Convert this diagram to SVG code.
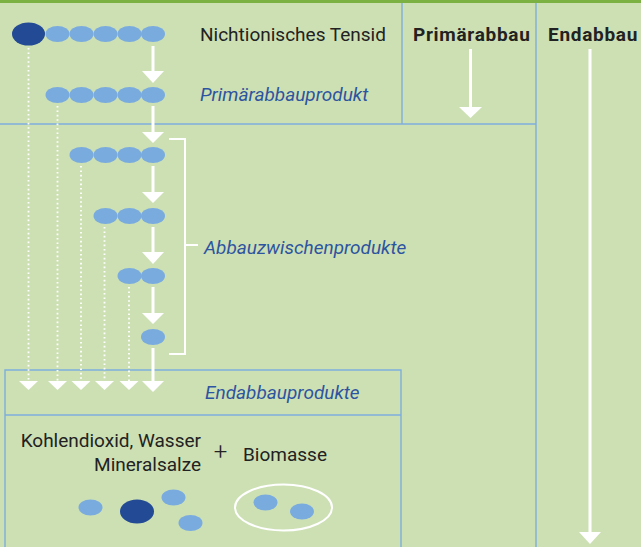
<svg xmlns="http://www.w3.org/2000/svg" width="641" height="547" viewBox="0 0 641 547">
<defs>
<style>
.bg{fill:#cde0b4}
.grid{stroke:#7eaedc;stroke-width:1.4;fill:none}
.lb{fill:#7aabdf}
.db{fill:#234a94}
.t{font-family:Roboto,"Liberation Sans",sans-serif;font-size:19px;fill:#222}
.b{font-weight:bold;letter-spacing:0.7px}
.i{font-style:italic;fill:#2d54a0}
.ar{stroke:#fff;stroke-width:3;fill:none}
.hd{fill:#fff}
.dot{stroke:#fff;stroke-width:1.8;stroke-dasharray:1.6 2.8;fill:none}
.br{stroke:#fff;stroke-width:2;fill:none}
</style>
</defs>
<rect class="bg" x="0" y="0" width="641" height="547"/>
<rect x="0" y="0" width="641" height="3" fill="#7bb043"/>
<g id="grid">
<line class="grid" x1="402" y1="3" x2="402" y2="124"/>
<line class="grid" x1="536" y1="3" x2="536" y2="547"/>
<line class="grid" x1="0" y1="124" x2="536" y2="124"/>
<path class="grid" d="M5,547 V370 H401 V547"/>
<line class="grid" x1="5" y1="415" x2="401" y2="415"/>
</g>
<g id="headers">
<text class="t" x="200" y="40.5">Nichtionisches Tensid</text>
<text class="t b" x="413" y="40.5">Primärabbau</text>
<text class="t b" x="548" y="40.5">Endabbau</text>
</g>
<g id="tensid">
<ellipse class="db" cx="28.5" cy="34" rx="16.5" ry="11.5"/>
<ellipse class="lb" cx="57.5" cy="34" rx="12" ry="8"/>
<ellipse class="lb" cx="81.5" cy="34" rx="12" ry="8"/>
<ellipse class="lb" cx="105.5" cy="34" rx="12" ry="8"/>
<ellipse class="lb" cx="129.5" cy="34" rx="12" ry="8"/>
<ellipse class="lb" cx="153" cy="34" rx="12" ry="8"/>
</g>
<g id="primaerprodukt">
<ellipse class="lb" cx="57.5" cy="95" rx="12" ry="8"/>
<ellipse class="lb" cx="81.5" cy="95" rx="12" ry="8"/>
<ellipse class="lb" cx="105.5" cy="95" rx="12" ry="8"/>
<ellipse class="lb" cx="129.5" cy="95" rx="12" ry="8"/>
<ellipse class="lb" cx="153" cy="95" rx="12" ry="8"/>
<text class="t i" x="200" y="100.5">Primärabbauprodukt</text>
</g>
<g id="zwischen1">
<ellipse class="lb" cx="81.5" cy="155" rx="12" ry="8"/>
<ellipse class="lb" cx="105.5" cy="155" rx="12" ry="8"/>
<ellipse class="lb" cx="129.5" cy="155" rx="12" ry="8"/>
<ellipse class="lb" cx="153" cy="155" rx="12" ry="8"/>
</g>
<g id="zwischen2">
<ellipse class="lb" cx="105.5" cy="216" rx="12" ry="8"/>
<ellipse class="lb" cx="129.5" cy="216" rx="12" ry="8"/>
<ellipse class="lb" cx="153" cy="216" rx="12" ry="8"/>
</g>
<g id="zwischen3">
<ellipse class="lb" cx="129.5" cy="276" rx="12" ry="8"/>
<ellipse class="lb" cx="153" cy="276" rx="12" ry="8"/>
</g>
<g id="zwischen4">
<ellipse class="lb" cx="153" cy="337" rx="12" ry="8"/>
</g>
<g id="zwischenlabel">
<path class="br" d="M169,139 H185 V354 H169 M185,245 H198"/>
<text class="t i" x="204" y="254">Abbauzwischenprodukte</text>
</g>
<g id="endprodukte">
<text class="t i" x="205" y="399">Endabbauprodukte</text>
<text class="t" x="201" y="447" text-anchor="end">Kohlendioxid, Wasser</text>
<text class="t" x="201" y="470.5" text-anchor="end">Mineralsalze</text>
<text class="t" x="220.5" y="460" text-anchor="middle" style="font-size:24px;font-weight:300">+</text>
<text class="t" x="243" y="460.5">Biomasse</text>
<ellipse class="lb" cx="90.5" cy="507.5" rx="12" ry="8"/>
<ellipse class="db" cx="137" cy="511.5" rx="17" ry="12"/>
<ellipse class="lb" cx="173.5" cy="497.5" rx="12" ry="8"/>
<ellipse class="lb" cx="190.5" cy="523" rx="12" ry="8"/>
<ellipse cx="283.5" cy="507.5" rx="48.5" ry="23" fill="none" stroke="#fff" stroke-width="2"/>
<ellipse class="lb" cx="265.5" cy="502.5" rx="12" ry="8"/>
<ellipse class="lb" cx="302" cy="511.5" rx="12" ry="8"/>
</g>
<g id="connectors">
<line class="ar" x1="153" y1="46" x2="153" y2="72"/>
<polygon class="hd" points="142,71 164,71 153,83"/>
<line class="ar" x1="153" y1="106" x2="153" y2="133"/>
<polygon class="hd" points="142,132 164,132 153,143"/>
<line class="ar" x1="153" y1="166" x2="153" y2="193"/>
<polygon class="hd" points="142,192 164,192 153,203"/>
<line class="ar" x1="153" y1="227" x2="153" y2="253"/>
<polygon class="hd" points="142,252 164,252 153,264"/>
<line class="ar" x1="153" y1="287" x2="153" y2="314"/>
<polygon class="hd" points="142,313 164,313 153,324"/>
<line class="ar" x1="153" y1="348" x2="153" y2="382"/>
<polygon class="hd" points="142,381 164,381 153,392"/>
<line class="dot" x1="28.5" y1="48" x2="28.5" y2="381"/>
<polygon class="hd" points="19,381 38,381 28.5,390"/>
<line class="dot" x1="57.5" y1="106" x2="57.5" y2="381"/>
<polygon class="hd" points="48,381 67,381 57.5,390"/>
<line class="dot" x1="81" y1="166" x2="81" y2="381"/>
<polygon class="hd" points="71.5,381 90.5,381 81,390"/>
<line class="dot" x1="104.5" y1="227" x2="104.5" y2="381"/>
<polygon class="hd" points="95,381 114,381 104.5,390"/>
<line class="dot" x1="129" y1="287" x2="129" y2="381"/>
<polygon class="hd" points="119.5,381 138.5,381 129,390"/>
<line class="ar" x1="470.5" y1="49" x2="470.5" y2="108"/>
<polygon class="hd" points="459,107 482,107 470.5,118"/>
<line class="ar" x1="590" y1="49" x2="590" y2="533"/>
<polygon class="hd" points="579,532 601,532 590,544"/>
</g>
</svg>
